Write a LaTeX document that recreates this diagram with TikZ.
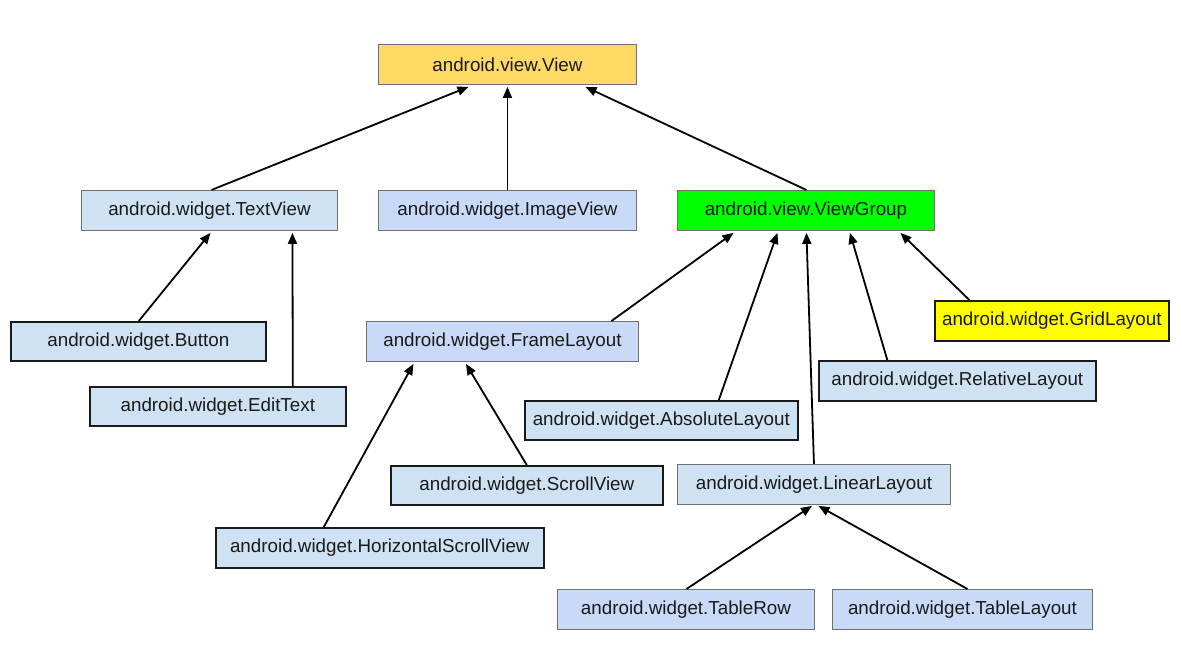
\documentclass[tikz,border=0pt]{standalone}
\usepackage{fontspec}
\setmainfont{Liberation Sans}
\usetikzlibrary{arrows.meta}
\definecolor{cView}{HTML}{FFD966}
\definecolor{cLB}{HTML}{CFE2F3}
\definecolor{cLV}{HTML}{C9DAF8}
\definecolor{cGreen}{HTML}{00FF00}
\definecolor{cYel}{HTML}{FFFF00}
\definecolor{cGrayB}{HTML}{707070}
\definecolor{cDarkB}{HTML}{1A1A1A}
\definecolor{cTxt}{HTML}{1A1A1A}
\tikzset{
  box/.style={draw=cGrayB, line width=0.9pt, rectangle, inner sep=0pt, anchor=north west,
    text=cTxt, font=\fontsize{18.8}{22}\selectfont},
  darkbox/.style={box, draw=cDarkB, line width=1.6pt},
  arr/.style={draw=black, line width=1.8pt, -{Triangle[length=11pt,width=9pt]}},
}
\begin{document}
\begin{tikzpicture}[x=1pt,y=-1pt]
\useasboundingbox[fill=white] (0,0) rectangle (1182,668);
\node[box, fill=cView, minimum width=258pt, minimum height=40pt] (view) at (378,44) {android.view.View};
\node[box, fill=cLB, minimum width=256pt, minimum height=40pt] (tv) at (81,190) {android.widget.TextView};
\node[box, fill=cLV, minimum width=258pt, minimum height=40pt] (iv) at (378,190) {android.widget.ImageView};
\node[box, fill=cGreen, minimum width=257pt, minimum height=40pt] (vg) at (677,190) {android.view.ViewGroup};
\node[darkbox, fill=cLB, minimum width=255pt, minimum height=39pt] (btn) at (10,321) {android.widget.Button};
\node[darkbox, fill=cLB, minimum width=256pt, minimum height=39pt] (et) at (89,386) {android.widget.EditText};
\node[box, fill=cLV, minimum width=272pt, minimum height=40pt] (fl) at (366,321) {android.widget.FrameLayout};
\node[darkbox, fill=cYel, minimum width=234pt, minimum height=40pt] (gl) at (934,300) {android.widget.GridLayout};
\node[darkbox, fill=cLB, minimum width=277pt, minimum height=40pt] (rl) at (818,360) {android.widget.RelativeLayout};
\node[darkbox, fill=cLB, minimum width=273pt, minimum height=39pt] (al) at (524,400) {android.widget.AbsoluteLayout};
\node[darkbox, fill=cLB, minimum width=272pt, minimum height=39pt] (sv) at (390,465) {android.widget.ScrollView};
\node[box, fill=cLB, minimum width=273pt, minimum height=40pt] (ll) at (677,464) {android.widget.LinearLayout};
\node[darkbox, fill=cLB, minimum width=328pt, minimum height=40pt] (hsv) at (215,527) {android.widget.HorizontalScrollView};
\node[box, fill=cLV, minimum width=257pt, minimum height=40pt] (tr) at (557,589) {android.widget.TableRow};
\node[box, fill=cLV, minimum width=260pt, minimum height=40pt] (tl) at (832,589) {android.widget.TableLayout};
% connectors
\draw[arr] ([xshift=2pt]tv.north) -- ([xshift=-39pt,yshift=-2pt]view.south);
\draw[arr] (iv.north) -- ([yshift=-2pt]view.south);
\draw[arr] ([xshift=0.5pt]vg.north) -- ([xshift=78pt,yshift=-2pt]view.south);
\draw[arr] ([xshift=0.5pt]btn.north) -- ([xshift=1pt,yshift=-2pt]tv.south);
\draw[arr] ([xshift=75pt]et.north) -- ([xshift=83pt,yshift=-2pt]tv.south);
\draw[arr] ([xshift=109pt]fl.north) -- ([xshift=-72.5pt,yshift=-2pt]vg.south);
\draw[arr] ([xshift=57.5pt]al.north) -- ([xshift=-28.5pt,yshift=-2pt]vg.south);
\draw[arr] (ll.north) -- ([xshift=0.5pt,yshift=-2pt]vg.south);
\draw[arr] ([xshift=-70pt]rl.north) -- ([xshift=44pt,yshift=-2pt]vg.south);
\draw[arr] ([xshift=-82.5pt]gl.north) -- ([xshift=94.5pt,yshift=-2pt]vg.south);
\draw[arr] ([xshift=-56pt]hsv.north) -- ([xshift=-89pt,yshift=-2pt]fl.south);
\draw[arr] (sv.north) -- ([xshift=-36.5pt,yshift=-2pt]fl.south);
\draw[arr] ([xshift=0.5pt]tr.north) -- ([xshift=-2pt,yshift=-1pt]ll.south);
\draw[arr] ([xshift=5pt]tl.north) -- ([xshift=4.5pt,yshift=-1pt]ll.south);
\end{tikzpicture}
\end{document}
